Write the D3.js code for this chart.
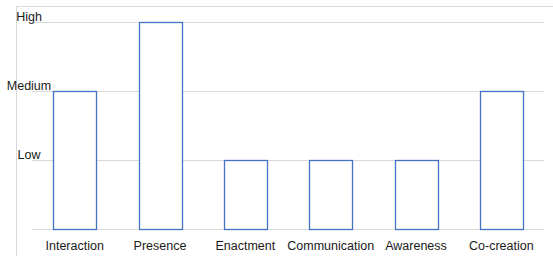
<!DOCTYPE html>
<html>
<head>
<meta charset="utf-8">
<script src="https://cdn.jsdelivr.net/npm/d3@7"></script>
<style>
  body { margin: 0; background: #fff; }
  text { font-family: "Liberation Sans", Arial, sans-serif; fill: #1a1a1a; }
</style>
</head>
<body>
<div id="chart"></div>
<script>
// categories and levels
var categories = ["Interaction", "Presence", "Enactment", "Communication", "Awareness", "Co-creation"];
var levels = [2, 3, 1, 1, 1, 2];
var levelNames = ["Low", "Medium", "High"];
var levelTicks = [1, 2, 3];

var width = 553, height = 256;

var svg = d3.select("#chart").append("svg")
    .attr("width", width)
    .attr("height", height);

// chart area border (top and left only visible)
svg.append("path")
    .attr("d", "M16.5,256 V6.5 H553")
    .attr("fill", "none")
    .attr("stroke", "#d9d9d9")
    .attr("stroke-width", 1);

var x = d3.scaleBand().domain(categories).range([32, 544]).paddingInner(0.5).paddingOuter(0.25);
var y = d3.scaleLinear().domain([0, 3]).range([229, 22]);

// gridlines
svg.append("g")
    .selectAll("line")
    .data([0].concat(levelTicks))
    .enter()
    .append("line")
    .attr("x1", 32)
    .attr("x2", 544)
    .attr("y1", function(d){ return Math.round(y(d)) + 0.5; })
    .attr("y2", function(d){ return Math.round(y(d)) + 0.5; })
    .attr("stroke", "#d9d9d9")
    .attr("stroke-width", 1);

// bars
svg.append("g")
    .selectAll("rect")
    .data(categories)
    .enter()
    .append("rect")
    .attr("x", function(d){ return Math.round(x(d)) + 0.5; })
    .attr("y", function(d, i){ return Math.round(y(levels[i])) + 0.5; })
    .attr("width", Math.round(x.bandwidth()))
    .attr("height", function(d, i){ return Math.round(y(0)) - Math.round(y(levels[i])); })
    .attr("fill", "#fff")
    .attr("stroke", "#4472c4")
    .attr("stroke-width", 1.3);

// x axis labels
var xAxis = d3.axisBottom(x).tickSize(0).tickPadding(0);
var gx = svg.append("g")
    .attr("transform", "translate(0,250)")
    .call(xAxis);
gx.select(".domain").remove();
gx.selectAll("text")
    .attr("font-size", "12.5px")
    .attr("dy", 0)
    .attr("fill", "#1a1a1a")
    .style("font-family", "'Liberation Sans', Arial, sans-serif");

// level labels (sit just above their gridline)
var yAxis = d3.axisLeft(y).tickValues(levelTicks)
    .tickFormat(function(d){ return levelNames[d - 1]; })
    .tickSize(0).tickPadding(0);
var gy = svg.append("g")
    .attr("transform", "translate(29,0)")
    .call(yAxis);
gy.select(".domain").remove();
gy.selectAll("text")
    .attr("text-anchor", "middle")
    .attr("dy", -2)
    .attr("fill", "#1a1a1a")
    .attr("font-size", "12.5px")
    .style("font-family", "'Liberation Sans', Arial, sans-serif");
</script>
</body>
</html>
